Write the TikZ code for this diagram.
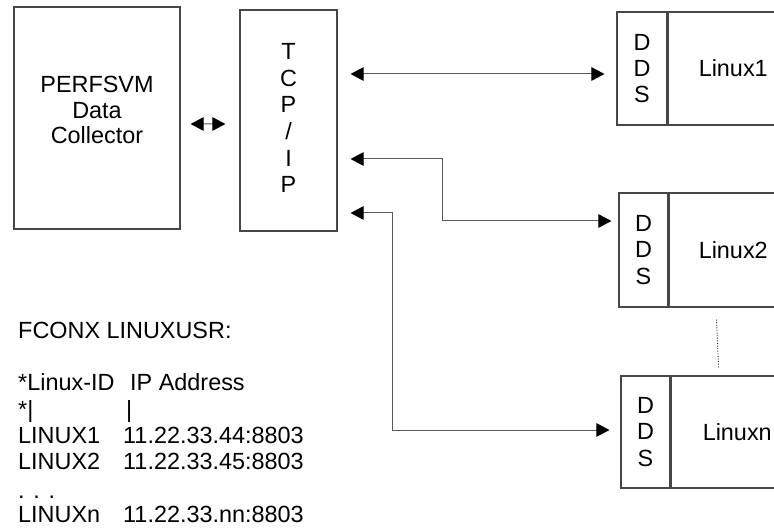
\documentclass[tikz,border=0pt]{standalone}
\usepackage{fontspec}
\setmainfont{Liberation Sans}
\usetikzlibrary{arrows.meta,calc}
\begin{document}
\begin{tikzpicture}[x=1bp,y=-1bp,
  box/.style={draw=black!72,line width=1.1bp,inner sep=0pt},
  txt/.style={inner sep=0pt,font=\fontsize{23.5}{26}\selectfont,text=black},
  stack/.style={txt,align=center,font=\fontsize{23.5}{#1}\selectfont},
  conn/.style={draw=black!65,line width=1bp,{Triangle[length=13bp,width=13.5bp,color=black]}-{Triangle[length=13bp,width=13.5bp,color=black]}},
  dotline/.style={draw=black!85,line width=0.9bp,dash pattern=on 1bp off 1.6bp}
]
\useasboundingbox (0,0) rectangle (774,529);
\clip (0,0) rectangle (774,529);

% PERFSVM box
\node[box,minimum width=166bp,minimum height=222bp] (perf) at (97,118) {};
\node[stack=25.5] (perftxt) at (97,110) {PERFSVM\\Data\\Collector};

% TCP/IP box
\node[box,minimum width=97bp,minimum height=221bp] (tcp) at (288.5,120.5) {};
\node[stack=26.8] (tcptxt) at (288.5,118) {T\\C\\P\\/\\I\\P};

% Linux boxes
\node[box,minimum width=50bp,minimum height=113bp] (l1dds) at (642,68.5) {};
\node[stack=26.5] (l1ddstxt) at (l1dds.center) {D\\D\\S};
\node[box,minimum width=140bp,minimum height=113bp,anchor=west] (l1box) at (l1dds.east) {};
\node[txt,anchor=west] (l1txt) at ($(l1box.west)+(31,0)$) {Linux1};

\node[box,minimum width=49bp,minimum height=114bp] (l2dds) at (643.5,250) {};
\node[stack=26.5] (l2ddstxt) at (l2dds.center) {D\\D\\S};
\node[box,minimum width=140bp,minimum height=114bp,anchor=west] (l2box) at (l2dds.east) {};
\node[txt,anchor=west] (l2txt) at ($(l2box.west)+(30,0)$) {Linux2};

\node[box,minimum width=49bp,minimum height=112bp] (lndds) at (645.5,432) {};
\node[stack=26.5] (lnddstxt) at (lndds.center) {D\\D\\S};
\node[box,minimum width=140bp,minimum height=112bp,anchor=west] (lnbox) at (lndds.east) {};
\node[txt,anchor=west] (lntxt) at ($(lnbox.west)+(32,0)$) {Linuxn};

% dotted continuation
\coordinate (dotA) at ($(l2box.south west)+(48,12)$);
\coordinate (dotB) at ($(lnbox.north west)+(48,-8)$);
\draw[dotline] (dotA) -- (dotB);

% connectors
\draw[conn] ($(perf.east)+(10,6)$) -- ($(tcp.west)+(-14,3.5)$);
\draw[conn] ($(tcp.east |- l1dds.west)+(13,5.5)$) -- ($(l1dds.west)+(-12,5.5)$);
\draw[conn] ($(tcp.east)+(13,38.5)$) -| ($(l2dds.west)+(-176,-29)$) -- ($(l2dds.west)+(-7,-29)$);
\draw[conn] ($(tcp.east)+(13,92.5)$) -| ($(lndds.west)+(-228,-2)$) -- ($(lndds.west)+(-11,-2)$);

% FCONX listing
\node[txt,anchor=base west] (fconx) at (18,338) {FCONX LINUXUSR:};
\node[txt,anchor=base west] (hdra) at (18,390) {*Linux-ID};
\node[txt,anchor=base west] (hdrb) at (130,390) {IP Address};
\node[txt,anchor=base west] (bara) at (18,417) {*|};
\node[txt,anchor=base west] (barb) at (126,417) {|};
\node[txt,anchor=base west] (r1a) at (18,443) {LINUX1};
\node[txt,anchor=base west] (r1b) at (123,443) {11.22.33.44:8803};
\node[txt,anchor=base west] (r2a) at (18,469) {LINUX2};
\node[txt,anchor=base west] (r2b) at (123,469) {11.22.33.45:8803};
\node[txt,anchor=base west] (dots) at (18,498) {. . .};
\node[txt,anchor=base west] (rna) at (18,522) {LINUXn};
\node[txt,anchor=base west] (rnb) at (123,522) {11.22.33.nn:8803};
\end{tikzpicture}
\end{document}
